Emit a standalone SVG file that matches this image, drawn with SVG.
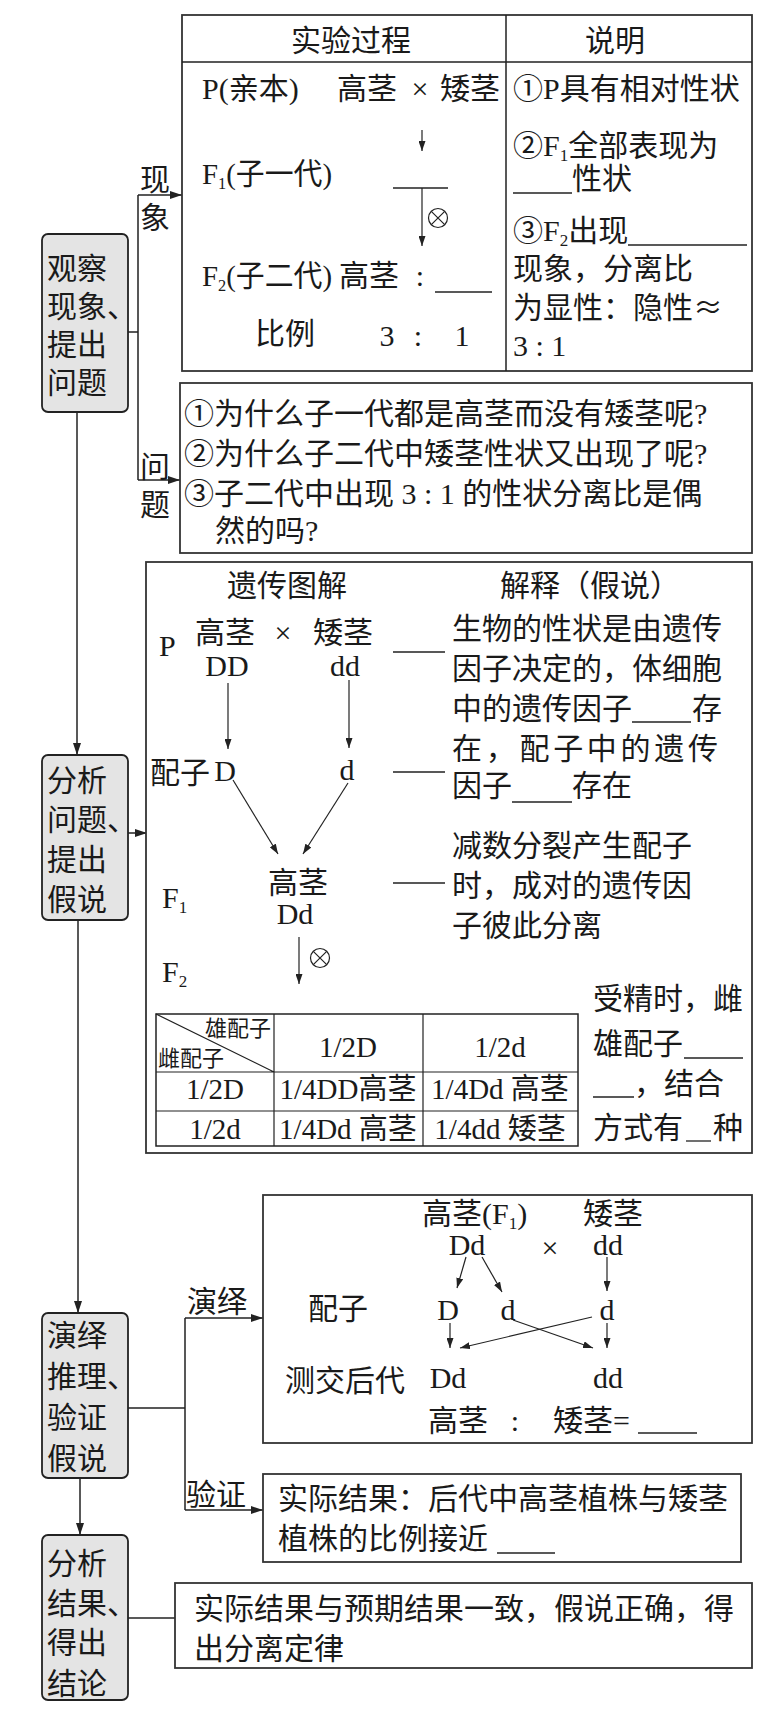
<svg xmlns="http://www.w3.org/2000/svg" width="759" height="1714" viewBox="0 0 759 1714">
<defs>
<marker id="ah" viewBox="0 0 12 8" refX="12" refY="4" markerWidth="12" markerHeight="8" orient="auto" markerUnits="userSpaceOnUse"><path d="M0,0 L12,4 L0,8 z" fill="#222"/></marker>
<marker id="as" viewBox="0 0 10 7" refX="10" refY="3.5" markerWidth="10" markerHeight="7" orient="auto" markerUnits="userSpaceOnUse"><path d="M0,0 L10,3.5 L0,7 z" fill="#222"/></marker>
</defs>
<style>
text{font-family:'Liberation Serif','Noto Sans CJK SC',serif;font-size:30px;fill:#1a1a1a}
.m{text-anchor:middle}
.sm{font-size:22px}
.tb{font-size:29px}
.cjk{font-family:'Noto Sans CJK SC',sans-serif}
.node rect{fill:#e4e4e4;stroke:#222;stroke-width:1.8}
.box{fill:#fff;stroke:#333;stroke-width:1.8}
.ln{stroke:#222;stroke-width:1.5;fill:none}
.thin{stroke:#222;stroke-width:1.2;fill:none}
.bl{stroke:#222;stroke-width:1.3}
</style>
<rect width="759" height="1714" fill="#fff"/>

<!-- connectors -->
<g id="connectors">
<path class="ln" d="M128,332 H138 M138,195 V480"/>
<path class="ln" d="M138,195 H182" marker-end="url(#ah)"/>
<path class="ln" d="M138,480 H180" marker-end="url(#ah)"/>
<text x="140" y="190">现</text>
<text x="140" y="228">象</text>
<text x="140" y="477">问</text>
<text x="140" y="515">题</text>
<path class="ln" d="M77,412 V755" marker-end="url(#ah)"/>
<path class="ln" d="M128,833 H147" marker-end="url(#ah)"/>
<path class="ln" d="M78,920 V1313" marker-end="url(#ah)"/>
<path class="ln" d="M128,1408 H185 M185,1318 V1510"/>
<path class="ln" d="M185,1318 H263" marker-end="url(#ah)"/>
<path class="ln" d="M185,1510 H263" marker-end="url(#ah)"/>
<text x="187" y="1312">演绎</text>
<text x="186" y="1505">验证</text>
<path class="ln" d="M80,1478 V1535" marker-end="url(#ah)"/>
<path class="ln" d="M128,1618 H175"/>
</g>

<!-- nodes -->
<g id="node1" class="node">
<rect x="42" y="234" width="86" height="178" rx="6"/>
<text x="47" y="279">观察</text>
<text x="47" y="317">现象、</text>
<text x="47" y="355">提出</text>
<text x="47" y="393">问题</text>
</g>
<g id="node2" class="node">
<rect x="42" y="755" width="86" height="165" rx="6"/>
<text x="47" y="791">分析</text>
<text x="47" y="830">问题、</text>
<text x="47" y="870">提出</text>
<text x="47" y="910">假说</text>
</g>
<g id="node3" class="node">
<rect x="42" y="1313" width="86" height="165" rx="6"/>
<text x="47" y="1346">演绎</text>
<text x="47" y="1387">推理、</text>
<text x="47" y="1428">验证</text>
<text x="47" y="1469">假说</text>
</g>
<g id="node4" class="node">
<rect x="42" y="1535" width="86" height="165" rx="6"/>
<text x="47" y="1574">分析</text>
<text x="47" y="1614">结果、</text>
<text x="47" y="1653">得出</text>
<text x="47" y="1694">结论</text>
</g>

<!-- phenomenon table -->
<g id="phenomenon">
<rect class="box" x="182" y="15" width="570" height="356"/>
<path class="ln" d="M182,62 H752 M506,15 V371"/>
<text class="m" x="351" y="51">实验过程</text>
<text class="m" x="615" y="51">说明</text>
<text x="202" y="99">P(亲本)</text>
<text x="337" y="99">高茎</text>
<text class="m" x="420" y="99">×</text>
<text x="440" y="99">矮茎</text>
<path class="thin" d="M422,130 V151" marker-end="url(#as)"/>
<text x="202" y="184" textLength="130" lengthAdjust="spacingAndGlyphs">F<tspan font-size="17" dy="5">1</tspan><tspan dy="-5">(子一代)</tspan></text>
<path class="bl" d="M393,188 H448"/>
<path class="thin" d="M422,188 V246" marker-end="url(#as)"/>
<circle cx="438" cy="218" r="9.5" class="thin"/>
<path class="thin" d="M431.3,211.3 L444.7,224.7 M444.7,211.3 L431.3,224.7"/>
<text x="202" y="286" textLength="130" lengthAdjust="spacingAndGlyphs">F<tspan font-size="17" dy="5">2</tspan><tspan dy="-5">(子二代)</tspan></text>
<text x="339" y="286">高茎</text>
<text class="m" x="420" y="286">:</text>
<path class="bl" d="M435,292 H492"/>
<text x="255" y="344">比例</text>
<text class="m" x="387" y="346">3</text>
<text class="m" x="418" y="346">:</text>
<text class="m" x="462" y="346">1</text>
<text x="513" y="99">①P具有相对性状</text>
<text x="513" y="156">②F<tspan font-size="17" dy="5">1</tspan><tspan dy="-5">全部表现为</tspan></text>
<path class="bl" d="M513,193 H572"/>
<text x="572" y="189">性状</text>
<text x="513" y="241">③F<tspan font-size="17" dy="5">2</tspan><tspan dy="-5">出现</tspan></text>
<path class="bl" d="M628,245 H747"/>
<text x="513" y="279">现象，分离比</text>
<text x="513" y="318">为显性：隐性<tspan class="cjk">≈</tspan></text>
<text x="513" y="356">3 : 1</text>
</g>

<!-- questions -->
<g id="questions">
<rect class="box" x="180" y="383" width="572" height="170"/>
<text x="184" y="424">①为什么子一代都是高茎而没有矮茎呢?</text>
<text x="184" y="464">②为什么子二代中矮茎性状又出现了呢?</text>
<text x="184" y="504">③子二代中出现 3 : 1 的性状分离比是偶</text>
<text x="215" y="541">然的吗?</text>
</g>

<!-- hypothesis -->
<g id="hypothesis">
<rect class="box" x="146" y="562" width="606" height="591"/>
<text class="m" x="287" y="596">遗传图解</text>
<text class="m" x="590" y="596">解释（假说）</text>
<text x="159" y="656">P</text>
<text class="m" x="225" y="643">高茎</text>
<text class="m" x="283" y="643">×</text>
<text class="m" x="343" y="643">矮茎</text>
<text class="m" x="227" y="676">DD</text>
<text class="m" x="345" y="676">dd</text>
<path class="thin" d="M228,683 V749" marker-end="url(#as)"/>
<path class="thin" d="M349,680 V748" marker-end="url(#as)"/>
<text x="150" y="783">配子</text>
<text class="m" x="225" y="781">D</text>
<text class="m" x="347" y="780">d</text>
<path class="thin" d="M233,780 L278,854" marker-end="url(#as)"/>
<path class="thin" d="M348,783 L303,854" marker-end="url(#as)"/>
<text class="m" x="298" y="893">高茎</text>
<text class="m" x="295" y="924">Dd</text>
<text x="162" y="908">F<tspan font-size="17" dy="5">1</tspan></text>
<text x="162" y="982">F<tspan font-size="17" dy="5">2</tspan></text>
<path class="thin" d="M299,937 V984" marker-end="url(#as)"/>
<circle cx="320" cy="958" r="9.5" class="thin"/>
<path class="thin" d="M313.3,951.3 L326.7,964.7 M326.7,951.3 L313.3,964.7"/>
<path class="bl" d="M393,652 H445 M393,772 H445 M393,883 H445"/>
<text x="452" y="639">生物的性状是由遗传</text>
<text x="452" y="679">因子决定的，体细胞</text>
<text x="452" y="719">中的遗传因子</text>
<path class="bl" d="M632,722 H691"/>
<text x="692" y="719">存</text>
<text x="452" y="759" textLength="266" lengthAdjust="spacing">在，配子中的遗传</text>
<text x="452" y="796">因子</text>
<path class="bl" d="M512,802 H572"/>
<text x="572" y="796">存在</text>
<text x="452" y="856">减数分裂产生配子</text>
<text x="452" y="896">时，成对的遗传因</text>
<text x="452" y="936">子彼此分离</text>
<rect x="156" y="1014" width="422" height="132" fill="none" stroke="#222" stroke-width="1.5"/>
<path class="thin" d="M274,1014 V1146 M423,1014 V1146 M156,1072 H578 M156,1111 H578 M156,1014 L274,1072"/>
<text class="sm m" x="238" y="1036">雄配子</text>
<text class="sm" x="158" y="1066">雌配子</text>
<text class="tb m" x="348" y="1057">1/2D</text>
<text class="tb m" x="500" y="1057">1/2d</text>
<text class="tb m" x="215" y="1099">1/2D</text>
<text class="tb m" x="348" y="1099">1/4DD高茎</text>
<text class="tb m" x="500" y="1099">1/4Dd 高茎</text>
<text class="tb m" x="215" y="1139">1/2d</text>
<text class="tb m" x="348" y="1139">1/4Dd 高茎</text>
<text class="tb m" x="500" y="1139">1/4dd 矮茎</text>
<text x="593" y="1009">受精时，雌</text>
<text x="593" y="1054">雄配子</text>
<path class="bl" d="M684,1058 H743"/>
<path class="bl" d="M593,1097 H634"/>
<text x="634" y="1094">，结合</text>
<text x="593" y="1138">方式有</text>
<path class="bl" d="M686,1141 H711"/>
<text x="713" y="1138">种</text>
</g>

<!-- deduction -->
<g id="deduction">
<rect class="box" x="263" y="1195" width="489" height="248"/>
<text x="422" y="1224">高茎(F<tspan font-size="17" dy="5">1</tspan><tspan dy="-5">)</tspan></text>
<text x="583" y="1224">矮茎</text>
<text class="m" x="467" y="1255">Dd</text>
<text class="m" x="550" y="1258">×</text>
<text class="m" x="608" y="1255">dd</text>
<path class="thin" d="M466,1257 L457,1288" marker-end="url(#as)"/>
<path class="thin" d="M482,1257 L502,1292" marker-end="url(#as)"/>
<path class="thin" d="M607,1257 V1291" marker-end="url(#as)"/>
<text x="308" y="1319">配子</text>
<text class="m" x="448" y="1320">D</text>
<text class="m" x="508" y="1320">d</text>
<text class="m" x="607" y="1320">d</text>
<path class="thin" d="M450,1323 V1348" marker-end="url(#as)"/>
<path class="thin" d="M607,1323 V1348" marker-end="url(#as)"/>
<path class="thin" d="M513,1320 L593,1348" marker-end="url(#as)"/>
<path class="thin" d="M592,1317 L460,1348" marker-end="url(#as)"/>
<text x="285" y="1391">测交后代</text>
<text class="m" x="448" y="1388">Dd</text>
<text class="m" x="608" y="1388">dd</text>
<text x="428" y="1431">高茎</text>
<text class="m" x="515" y="1431">:</text>
<text x="553" y="1431">矮茎=</text>
<path class="bl" d="M638,1433 H697"/>
</g>

<!-- verification -->
<g id="verification">
<rect class="box" x="263" y="1474" width="478" height="88"/>
<text x="278" y="1509">实际结果：后代中高茎植株与矮茎</text>
<text x="278" y="1549">植株的比例接近</text>
<path class="bl" d="M497,1553 H555"/>
</g>

<!-- conclusion -->
<g id="conclusion">
<rect class="box" x="175" y="1583" width="577" height="85"/>
<text x="194" y="1619">实际结果与预期结果一致，假说正确，得</text>
<text x="194" y="1659">出分离定律</text>
</g>
</svg>
